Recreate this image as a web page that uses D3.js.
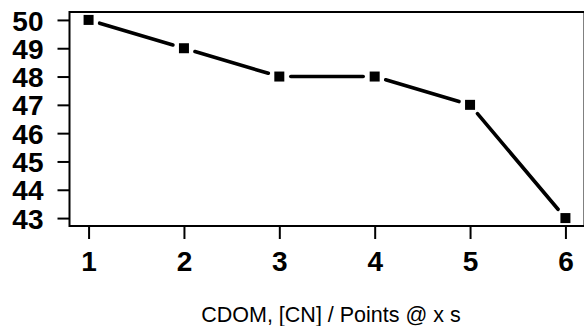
<!DOCTYPE html>
<html><head><meta charset="utf-8">
<script src="https://cdn.jsdelivr.net/npm/d3@7"></script>
<style>body{margin:0;background:#fff}svg{display:block}</style>
</head><body>
<script>
const xValues = [1, 2, 3, 4, 5, 6];
const yValues = [50, 49, 48, 48, 47, 43];
const xTicks = [1, 2, 3, 4, 5, 6];
const yTicks = [43, 44, 45, 46, 47, 48, 49, 50];
const title = "CDOM, [CN] / Points @ x s";

const W = 584, H = 326;
const box = {l: 69.5, r: 584.5, t: 12, b: 226};
const svg = d3.select("body").append("svg").attr("width", W).attr("height", H);

const x = d3.scaleLinear().domain([0.8, 6.2]).range([box.l, box.r]);
const y = d3.scaleLinear().domain([42.72, 50.28]).range([box.b, box.t]);

svg.append("rect").attr("x", box.l).attr("y", box.t)
  .attr("width", box.r - box.l).attr("height", box.b - box.t)
  .attr("fill", "none").attr("stroke", "#000").attr("stroke-width", 2);

const ya = svg.append("g").attr("transform", `translate(${box.l},0)`)
  .call(d3.axisLeft(y).tickValues(yTicks).tickFormat(d3.format("d")).tickSize(12).tickPadding(14).tickSizeOuter(0));
ya.select(".domain").remove();
ya.selectAll(".tick line").attr("stroke", "#000").attr("stroke-width", 2);
ya.selectAll(".tick text").attr("font-family", "Liberation Sans, Arial, sans-serif")
  .attr("font-weight", "bold").attr("font-size", 28).attr("fill", "#000")
  .attr("dy", "0.36em");

const xa = svg.append("g").attr("transform", `translate(0,${box.b})`)
  .call(d3.axisBottom(x).tickValues(xTicks).tickFormat(d3.format("d")).tickSize(13).tickPadding(12).tickSizeOuter(0));
xa.select(".domain").remove();
xa.selectAll(".tick line").attr("stroke", "#000").attr("stroke-width", 2);
xa.selectAll(".tick text").attr("font-family", "Liberation Sans, Arial, sans-serif")
  .attr("font-weight", "bold").attr("font-size", 28).attr("fill", "#000");

const pts = xValues.map((v, i) => [x(v), y(yValues[i])]);
const gap = 11.5;
const segs = [];
for (let i = 0; i < pts.length - 1; i++) {
  const [x0, y0] = pts[i], [x1, y1] = pts[i + 1];
  const dx = x1 - x0, dy = y1 - y0, L = Math.hypot(dx, dy);
  const ux = dx / L, uy = dy / L;
  segs.push([x0 + ux * gap, y0 + uy * gap, x1 - ux * gap, y1 - uy * gap]);
}
svg.append("g").selectAll("line").data(segs).join("line")
  .attr("x1", d => d[0]).attr("y1", d => d[1]).attr("x2", d => d[2]).attr("y2", d => d[3])
  .attr("stroke", "#000").attr("stroke-width", 3.6).attr("stroke-linecap", "round");

const s = 10;
svg.append("g").selectAll("rect").data(pts).join("rect")
  .attr("x", d => d[0] - s / 2).attr("y", d => d[1] - s / 2)
  .attr("width", s).attr("height", s).attr("fill", "#000");

svg.append("text").attr("x", 331).attr("y", 322).attr("text-anchor", "middle")
  .attr("font-family", "Liberation Sans, Arial, sans-serif").attr("font-size", 21.5)
  .attr("fill", "#000").text(title);
</script>
</body></html>
